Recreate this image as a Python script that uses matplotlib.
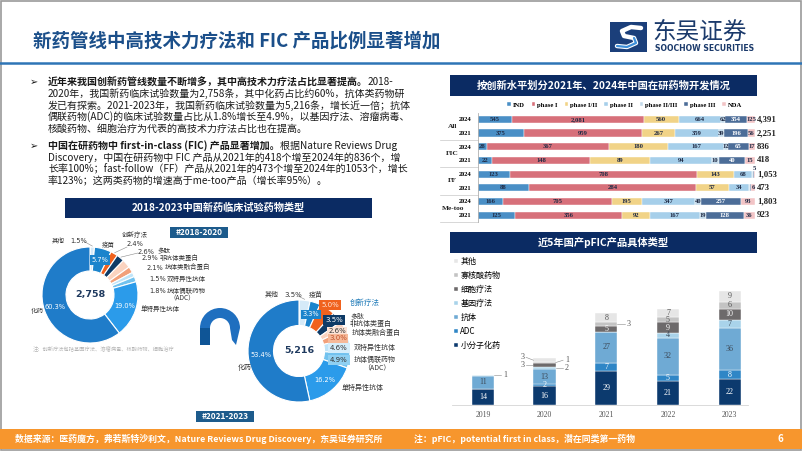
import matplotlib
matplotlib.use('Agg')
import numpy as np
import matplotlib.pyplot as plt
import matplotlib.patches as mpatches

plt.rcParams['font.family'] = ['Noto Sans CJK SC', 'DejaVu Sans']

W, H = 802, 451

# ── 数据 ────────────────────────────────────────────────────────────────────
donut_cats = ['其他', '疫苗', '创新疗法', '多肽', '非抗体类蛋白', '抗体类融合蛋白',
              '双特异性抗体', '抗体偶联药物', '单特异性抗体', '化药']
share_1820 = [1.5, 5.7, 2.4, 2.6, 2.9, 2.1, 1.5, 1.8, 19.0, 60.3]
share_2123 = [3.5, 3.3, 5.0, 3.5, 2.6, 3.0, 4.6, 4.9, 16.2, 53.4]
trials_1820 = 2758
trials_2123 = 5216

phases = ['IND', 'phase I', 'phase I/II', 'phase II', 'phase II/III', 'phase III', 'NDA']
pipe_groups = ['All', 'FIC', 'FF', 'Me-too']
pipe_years = ['2024', '2021']
pipe_ind = [545, 375, 28, 22, 123, 88, 166, 125]
pipe_p1 = [2081, 959, 367, 148, 708, 284, 705, 356]
pipe_p12 = [560, 267, 180, 89, 143, 57, 195, 92]
pipe_p2 = [664, 359, 167, 94, 68, 34, 347, 167]
pipe_p23 = [62, 39, 12, 10, 2, 1, 40, 19]
pipe_p3 = [354, 196, 65, 40, 4, 3, 257, 128]
pipe_nda = [125, 56, 17, 15, 5, 6, 93, 36]

pfic_years = ['2019', '2020', '2021', '2022', '2023']
pfic_types = ['小分子化药', 'ADC', '抗体', '基因疗法', '细胞疗法', '寡核酸药物', '其他']
pfic_small = [14, 16, 29, 21, 22]
pfic_adc = [0, 2, 7, 5, 8]
pfic_ab = [11, 13, 27, 32, 36]
pfic_gene = [1, 2, 0, 4, 7]
pfic_cell = [0, 3, 5, 9, 10]
pfic_oligo = [0, 1, 3, 5, 6]
pfic_other = [0, 3, 8, 7, 9]

# ── 样式 ────────────────────────────────────────────────────────────────────
NAVY = '#0B2B63'
DONUT_COLORS = ['#D5EAF8', '#1B84CC', '#F0621E', '#0E3A66', '#FAD3C0', '#F2A07A',
                '#BFE4F8', '#72C2EE', '#2B9BEA', '#1F7CC9']
PHASE_COLORS = ['#4A8FC6', '#D7707A', '#F1D387', '#A6CFEA', '#C3DAEA', '#4C6D98', '#F2C4C6']
PFIC_COLORS = ['#0C3A6E', '#2F86C6', '#6FAAD4', '#A9D3EA', '#6D6A6B', '#C3C3C3', '#E6E6E6']
SERIF = 'Liberation Serif'

fig = plt.figure(figsize=(W / 100, H / 100), dpi=100)
fig.patch.set_facecolor('white')


def px_axes(x0, y0, x1, y1, **kw):
    return fig.add_axes([x0 / W, 1 - y1 / H, (x1 - x0) / W, (y1 - y0) / H], **kw)


bg = px_axes(0, 0, W, H)
bg.set_xlim(0, W); bg.set_ylim(H, 0); bg.axis('off')
renderer = fig.canvas.get_renderer()

# 边框、标题、logo
bg.add_patch(mpatches.Rectangle((0.8, 0.8), W - 1.6, H - 1.6, fill=False, ec='#9a9a9a', lw=1.2))
bg.plot([0, W], [63, 63], color='#2E75B6', lw=1.8)
bg.text(33, 41, '新药管线中高技术力疗法和 FIC 产品比例显著增加', fontsize=13.3,
        fontweight='bold', color='#1B4F8A', va='center')

bg.add_patch(mpatches.Rectangle((610, 22), 37, 30, fc='#1B3F7A', ec='none'))
bg.plot([641, 631, 622, 624, 634, 636, 627, 617], [28, 27, 31, 36, 38, 43, 47, 46],
        color='white', lw=3.2, solid_capstyle='round', solid_joinstyle='round')
bg.plot([634, 636, 627, 617], [38, 43, 47, 46], color='#3D8FD9', lw=1.6,
        solid_capstyle='round')
bg.text(652, 32, '东吴证券', fontsize=17, color='#1B3A6B', va='center')
bg.text(655, 48.5, 'SOOCHOW SECURITIES', fontsize=5.6, fontweight='bold',
        color='#1B3A6B', va='center', family='DejaVu Sans')


# 正文（粗体 + 常规混排）
def rich(x, y, parts, fs=7.2):
    for s, bold in parts:
        t = bg.text(x, y, s, fontsize=fs, fontweight='bold' if bold else 'normal',
                    color='#1a1a1a', va='center')
        x += t.get_window_extent(renderer).width


for yb in (81.7, 145.7):
    bg.text(30, yb, '➢', fontsize=7, family='DejaVu Sans', color='#1a1a1a', va='center')

lines = [
    (81.7, [('近年来我国创新药管线数量不断增多，其中高技术力疗法占比显著提高。', True), ('2018-', False)]),
    (93.4, [('2020年，我国新药临床试验数量为2,758条，其中化药占比约60%，抗体类药物研', False)]),
    (105.1, [('发已有探索。2021-2023年，我国新药临床试验数量为5,216条，增长近一倍；抗体', False)]),
    (116.8, [('偶联药物(ADC)的临床试验数量占比从1.8%增长至4.9%，以基因疗法、溶瘤病毒、', False)]),
    (128.5, [('核酸药物、细胞治疗为代表的高技术力疗法占比也在提高。', False)]),
    (145.7, [('中国在研药物中 first-in-class (FIC) 产品显著增加。', True), ('根据Nature Reviews Drug', False)]),
    (157.6, [('Discovery，中国在研药物中 FIC 产品从2021年的418个增至2024年的836个，增', False)]),
    (169.6, [('长率100%；fast-follow（FF）产品从2021年的473个增至2024年的1053个，增长', False)]),
    (181.6, [('率123%；这两类药物的增速高于me-too产品（增长率95%）。', False)]),
]
for y, parts in lines:
    rich(48, y, parts)


def banner(x0, y0, x1, y1, text, fs=7.3):
    bg.add_patch(mpatches.Rectangle((x0, y0), x1 - x0, y1 - y0, fc=NAVY, ec='none'))
    bg.text((x0 + x1) / 2, (y0 + y1) / 2, text, color='white', fontsize=fs,
            fontweight='bold', ha='center', va='center')


banner(65, 198, 372, 218, '2018-2023中国新药临床试验药物类型')
banner(450, 75, 757, 96, '按创新水平划分2021年、2024年中国在研药物开发情况', 7.4)
banner(450, 232, 757, 253, '近5年国产pFIC产品具体类型', 7.4)

for x0, y0, s in [(170, 226.5, '#2018-2020'), (196, 411, '#2021-2023')]:
    bg.add_patch(mpatches.Rectangle((x0, y0), 58, 11, fc='#1D5B8C', ec='none'))
    bg.text(x0 + 29, y0 + 5.6, s, color='white', fontsize=6, fontweight='bold',
            ha='center', va='center')

# 页脚
bg.add_patch(mpatches.Rectangle((0, 429), W, 20, fc='#F7962D', ec='none'))
bg.text(15, 439, '数据来源：医药魔方，弗若斯特沙利文，Nature Reviews Drug Discovery，东吴证券研究所',
        color='white', fontsize=6.4, fontweight='bold', va='center')
bg.text(414, 439, '注：pFIC，potential first in class，潜在同类第一药物',
        color='white', fontsize=6.4, fontweight='bold', va='center')
bg.text(780, 439, '6', color='white', fontsize=7, fontweight='bold', va='center', ha='center')

# 中间拱形装饰
bg.add_patch(mpatches.Wedge((220, 328), 20, 180, 360, width=10, fc='#1F6FBF', ec='none'))
bg.add_patch(mpatches.Rectangle((200, 328), 10, 17, fc='#0F5596', ec='none'))
bg.add_patch(mpatches.Polygon([(230, 328), (240, 328), (236, 345), (232, 340)], fc='#1F6FBF', ec='none'))

bg.text(33, 349, '注：创新疗法包括基因疗法、溶瘤病毒、核酸药物、细胞治疗', fontsize=3.8,
        color='#b5b5b5', va='center')


# ── 环形图 ──────────────────────────────────────────────────────────────────
def donut(cx, cy, r, shares, total):
    ax = px_axes(cx - r, cy - r, cx + r, cy + r)
    wedges, _ = ax.pie(shares, colors=DONUT_COLORS, startangle=90, counterclock=False,
                       radius=1, wedgeprops=dict(width=0.5, edgecolor='white', linewidth=0.8))
    ax.set_xlim(-1, 1); ax.set_ylim(-1, 1)
    ax.text(0, 0, f'{total:,}', ha='center', va='center', fontsize=6.8,
            fontweight='bold', color='#1F3A5F', family='DejaVu Sans')
    for idx in (1, 8, 9):
        w = wedges[idx]
        a = np.deg2rad((w.theta1 + w.theta2) / 2)
        box = dict(boxstyle='square,pad=0.25', fc=DONUT_COLORS[idx], ec='none') if idx == 1 else None
        ax.text(0.76 * np.cos(a), 0.76 * np.sin(a), f'{shares[idx]:.1f}%', ha='center',
                va='center', fontsize=4.8, color='white', family='DejaVu Sans', bbox=box)
    return ax, wedges


def edge_pt(cx, cy, r, w):
    a = np.deg2rad((w.theta1 + w.theta2) / 2)
    return cx + r * np.cos(a), cy - r * np.sin(a)


CX1, CY1, R1 = 90, 295, 48
CX2, CY2, R2 = 299, 351, 51
d1, w1 = donut(CX1, CY1, R1, share_1820, trials_1820)
d2, w2 = donut(CX2, CY2, R2, share_2123, trials_2123)

ov = px_axes(0, 0, W, H)
ov.set_xlim(0, W); ov.set_ylim(H, 0); ov.axis('off')
LAB = dict(fontsize=4.7, color='#333333', va='center')
PCT = dict(fontsize=4.8, color='#333333', va='center', family='DejaVu Sans')


def leader(cx, cy, r, w, x, y):
    ex, ey = edge_pt(cx, cy, r + 1, w)
    ov.plot([x, ex], [y, ey], color='#8a8a8a', lw=0.4)


# 2018-2020 标签
s = share_1820
ov.text(52, 241, '其他', **LAB); ov.text(70, 241, f'{s[0]:.1f}%', **PCT)
leader(CX1, CY1, R1, w1[0], 85, 242)
ov.text(102, 245.5, donut_cats[1], **LAB)
ov.text(122, 235, donut_cats[2], **LAB); ov.text(127, 244, f'{s[2]:.1f}%', **PCT)
leader(CX1, CY1, R1, w1[2], 127, 247)
ov.text(138, 252, f'{s[3]:.1f}%', **PCT); ov.text(158, 251, donut_cats[3], **LAB)
leader(CX1, CY1, R1, w1[3], 138, 253)
ov.text(142, 258.5, f'{s[4]:.1f}%', **PCT); ov.text(160, 258, donut_cats[4], **LAB)
ov.text(147, 268, f'{s[5]:.1f}%', **PCT); ov.text(165, 268, donut_cats[5], **LAB)
ov.text(149, 279, f'{s[6]:.1f}%', **PCT); ov.text(167, 279, donut_cats[6], **LAB)
ov.text(149, 291, f'{s[7]:.1f}%', **PCT); ov.text(167, 291, donut_cats[7], **LAB)
ov.text(169, 298.5, '（ADC）', **LAB)
ov.text(141, 309.5, donut_cats[8], **LAB)
ov.text(31, 311, donut_cats[9], **LAB)

# 2021-2023 标签
s = share_2123
LAB2 = dict(LAB, fontsize=5.0)
PCT2 = dict(PCT, fontsize=5.0, ha='center')
ov.text(265, 295, '其他', **LAB2); ov.text(284, 295, f'{s[0]:.1f}%', **dict(PCT, fontsize=5.0))
leader(CX2, CY2, R2, w2[0], 298, 296)
ov.text(309, 295, donut_cats[1], **LAB2)
ov.text(330, 305, f'{s[2]:.1f}%', **dict(PCT2, color='#FFE6D8'),
        bbox=dict(boxstyle='square,pad=0.35', fc='#F0621E', ec='none'))
ov.text(350, 303, donut_cats[2], **dict(LAB2, color='#1F7AB8', fontsize=5.4))
ov.text(334, 320, f'{s[3]:.1f}%', **dict(PCT2, color='white'),
        bbox=dict(boxstyle='square,pad=0.35', fc='#0E3A66', ec='none'))
ov.text(350, 316, donut_cats[3], **LAB2)
ov.text(350, 323.5, donut_cats[4], **LAB2)
ov.text(337, 331, f'{s[4]:.1f}%', **PCT2,
        bbox=dict(boxstyle='square,pad=0.2', fc='#FCE3D6', ec='none'))
ov.text(352, 333, donut_cats[5], **LAB2)
ov.text(338, 338.5, f'{s[5]:.1f}%', **dict(PCT2, color='#C0502A'),
        bbox=dict(boxstyle='square,pad=0.2', fc='#F6B999', ec='none'))
ov.text(339, 348, f'{s[6]:.1f}%', **PCT2,
        bbox=dict(boxstyle='square,pad=0.35', fc='#D6EEFB', ec='none'))
ov.text(354, 348, donut_cats[6], **LAB2)
ov.text(339, 360, f'{s[7]:.1f}%', **PCT2,
        bbox=dict(boxstyle='square,pad=0.35', fc='#8FD0F2', ec='none'))
ov.text(354, 360, donut_cats[7], **LAB2)
ov.text(363, 368.5, '（ADC）', **LAB2)
ov.text(342, 388, donut_cats[8], **LAB2)
ov.text(238, 368, donut_cats[9], **LAB2)

# ── 在研药物 100% 堆积条形图 ─────────────────────────────────────────────────
pipe = np.array([pipe_ind, pipe_p1, pipe_p12, pipe_p2, pipe_p23, pipe_p3, pipe_nda], float)
totals = pipe.sum(axis=0)
frac = pipe / totals
left = np.vstack([np.zeros(pipe.shape[1]), np.cumsum(frac, axis=0)[:-1]])
rows = np.arange(pipe.shape[1])

ax1 = px_axes(477.7, 112.5, 755, 222)
for i, ph in enumerate(phases):
    ax1.barh(rows, frac[i], left=left[i], height=0.52, color=PHASE_COLORS[i],
             edgecolor='white', linewidth=0.3, label=ph)
    for j in rows:
        if frac[i, j] >= 0.01:
            ax1.text(left[i, j] + frac[i, j] / 2, j, f'{int(pipe[i, j]):,}', ha='center',
                     va='center', fontsize=4.8, fontweight='bold', family=SERIF,
                     color='white' if i == 5 else '#1F2A44')
        elif i == len(phases) - 1:
            ax1.text(left[i, j] + frac[i, j] / 2, j - 0.42, f'{int(pipe[i, j]):,}',
                     ha='center', va='center', fontsize=4.8, fontweight='bold',
                     family=SERIF, color='#1F2A44')
ax1.set_xlim(0, 1); ax1.set_ylim(rows[-1] + 0.5, -0.5)
ax1.set_xticks([])
ax1.set_yticks(rows, labels=pipe_years * len(pipe_groups))
ax1.tick_params(axis='y', length=0, pad=4.5, labelsize=4.6)
for lab in ax1.get_yticklabels():
    lab.set_fontfamily(SERIF); lab.set_fontweight('bold')
for sp in ('top', 'right', 'bottom'):
    ax1.spines[sp].set_visible(False)
ax1.spines['left'].set_color('#b0b0b0'); ax1.spines['left'].set_linewidth(0.6)
ytr = ax1.get_yaxis_transform()
for j in rows:
    ax1.text(1.007, j, f'{int(totals[j]):,}', transform=ytr, ha='left', va='center',
             fontsize=6.3, fontweight='bold', family=SERIF, color='#222222')
for g, name in enumerate(pipe_groups):
    ax1.text(-0.09, 2 * g + 0.5, name, transform=ytr, ha='center', va='center',
             fontsize=5.3, fontweight='bold', family=SERIF, color='#222222')
    ax1.plot([-0.135, 0], [2 * g + 1.5] * 2, transform=ytr, clip_on=False,
             color='#c8c8c8', lw=0.5)
ax1.legend(loc='center', bbox_to_anchor=(0.53, 1.07), ncol=7, frameon=False,
           prop=dict(family=SERIF, weight='bold', size=4.8), handlelength=0.55,
           handleheight=0.55, handletextpad=0.3, columnspacing=1.0, borderaxespad=0)

# ── pFIC 堆积柱状图 ─────────────────────────────────────────────────────────
pfic = np.array([pfic_small, pfic_adc, pfic_ab, pfic_gene, pfic_cell, pfic_oligo, pfic_other], float)
ax2 = px_axes(452, 262, 760, 405)
xs = np.arange(len(pfic_years))
label_col = ['white', 'white', '#3d4a58', '#3d4a58', 'white', '#555555', '#555555']
bottom = np.zeros(len(pfic_years))
for i, name in enumerate(pfic_types):
    ax2.bar(xs, pfic[i], 0.36, bottom=bottom, color=PFIC_COLORS[i], label=name,
            edgecolor='white', linewidth=0.3)
    bottom += pfic[i]

# 数值标签：小段放在柱外，左右交替
for j in xs:
    segs = pfic[:, j]
    cum = np.concatenate([[0], np.cumsum(segs)])
    side, last = 1, {1: -99.0, -1: -99.0}
    for i in range(len(segs)):
        v = segs[i]
        if v == 0:
            continue
        yc = cum[i] + v / 2
        nb = [segs[k] for k in (i - 1, i + 1) if 0 <= k < len(segs) and segs[k] > 0]
        if v >= 4 or (v >= 2 and all(n >= 10 for n in nb)):
            ax2.text(j, yc, f'{int(v)}', ha='center', va='center', fontsize=5.8,
                     family=SERIF, color=label_col[i])
        else:
            yl = max(yc, last[side] + 6.5)
            last[side] = yl
            ax2.plot([j + side * 0.18, j + side * 0.3], [yc, yl], color='#888888', lw=0.4)
            ax2.text(j + side * 0.33, yl, f'{int(v)}', ha='left' if side > 0 else 'right',
                     va='center', fontsize=5.8, family=SERIF, color='#555555')
            side = -side

ax2.set_xlim(-0.5, 4.49); ax2.set_ylim(0, 123)
ax2.set_yticks([])
ax2.set_xticks(xs, labels=pfic_years)
ax2.tick_params(axis='x', length=0, pad=4, labelsize=5.6, labelcolor='#555555')
for lab in ax2.get_xticklabels():
    lab.set_fontfamily(SERIF)
for sp in ('top', 'right', 'left'):
    ax2.spines[sp].set_visible(False)
ax2.spines['bottom'].set_color('#d5d5d5'); ax2.spines['bottom'].set_linewidth(0.6)
ax2.spines['bottom'].set_bounds(-0.5, 4.3)
h, l = ax2.get_legend_handles_labels()
ax2.legend(h[::-1], l[::-1], loc='upper left', bbox_to_anchor=(0.005, 1.035),
           frameon=False, prop=dict(size=5.8), handlelength=0.5, handleheight=0.5,
           handletextpad=0.35, labelspacing=0.62, borderaxespad=0, borderpad=0)

fig.savefig('out.png', dpi=100, facecolor='white')
